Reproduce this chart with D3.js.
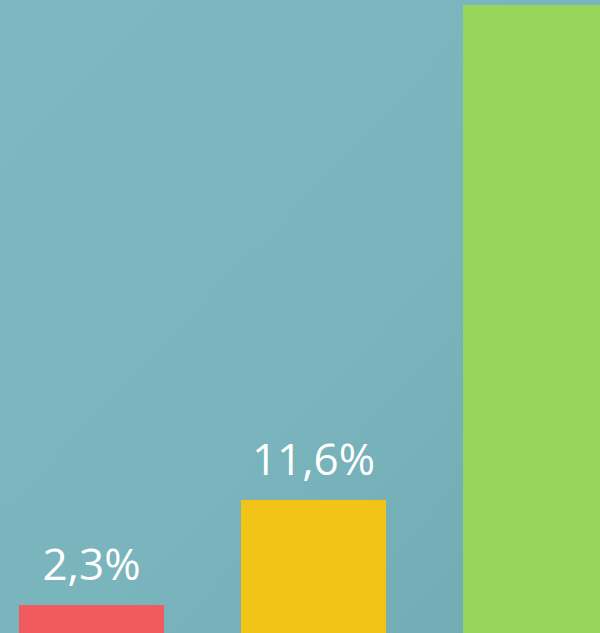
<!DOCTYPE html>
<html><head><meta charset="utf-8">
<script src="https://cdn.jsdelivr.net/npm/d3@7"></script>
<style>html,body{margin:0;padding:0;overflow:hidden;background:#7bb5bd}</style>
</head><body>
<script>
const categories = ["A", "B", "C"];
const values = [2.3, 11.6, 55.4];
const labels = ["2,3%", "11,6%", ""];
const colors = ["#f05c5e", "#f2c417", "#97d65b"];

const W = 600, H = 633;
const svg = d3.select("body").append("svg").attr("width", W).attr("height", H);
const defs = svg.append("defs");
const g = defs.append("linearGradient").attr("id","bg").attr("x1","0").attr("y1","0").attr("x2","1").attr("y2","1");
g.append("stop").attr("offset","0").attr("stop-color","#7db7bf");
g.append("stop").attr("offset","0.55").attr("stop-color","#7ab4bc");
g.append("stop").attr("offset","1").attr("stop-color","#6fa9b1");
svg.append("rect").attr("width",W).attr("height",H).attr("fill","url(#bg)");

const x = d3.scaleBand().domain(categories).range([-19.5, 646.5]).paddingInner(0.347).paddingOuter(0.1735);
const y = d3.scaleLinear().domain([0, 55.4]).range([631, 5]);

svg.selectAll("rect.bar").data(values).join("rect").attr("class","bar")
  .attr("x",(d,i)=>x(categories[i])).attr("width",x.bandwidth())
  .attr("y",d=>y(d)).attr("height",d=>H + 10 - y(d))
  .attr("fill",(d,i)=>colors[i]);

svg.selectAll("text.lbl").data(values.filter((d,i)=>labels[i])).join("text").attr("class","lbl")
  .attr("x",(d,i)=>x(categories[i])+x.bandwidth()/2)
  .attr("y",d=>y(d)-25)
  .attr("text-anchor","middle")
  .attr("fill","#ffffff")
  .attr("font-family","'Open Sans', sans-serif")
  .attr("font-size",44)
  .text((d,i)=>labels[i]);
</script>
</body></html>
